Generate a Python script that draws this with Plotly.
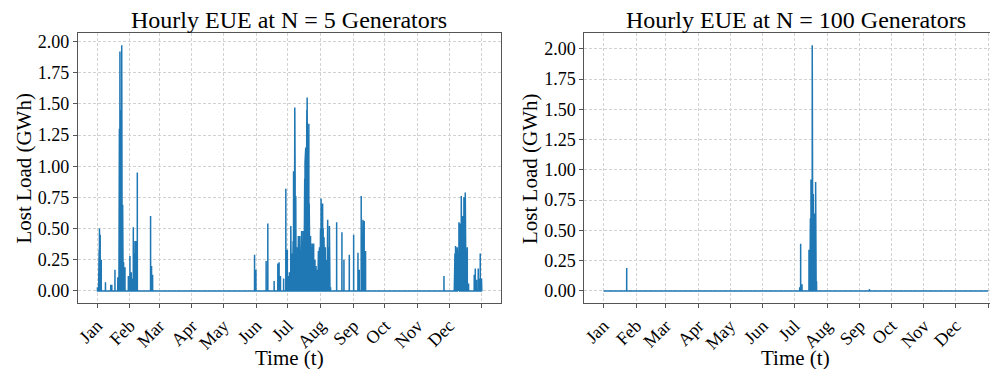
import pandas as pd
import plotly.graph_objects as go

# ---------------- data ----------------
month_labels = ["Jan", "Feb", "Mar", "Apr", "May", "Jun", "Jul", "Aug", "Sep", "Oct", "Nov", "Dec", ""]
month_ticks = ["2019-01-01", "2019-02-01", "2019-03-01", "2019-04-01", "2019-05-01", "2019-06-01",
               "2019-07-01", "2019-08-01", "2019-09-01", "2019-10-01", "2019-11-01", "2019-12-01",
               "2020-01-01"]
y_ticks = [0.0, 0.25, 0.5, 0.75, 1.0, 1.25, 1.5, 1.75, 2.0]

series_start = "2019-01-01 00:00"
series_end = "2019-12-31 23:00"

# N = 5 generators : hours with lost load (GWh)
n5_times = [
    "2019-01-01 10:00", "2019-01-02 12:00", "2019-01-03 00:00", "2019-01-03 07:00", "2019-01-04 00:00",
    "2019-01-05 00:00", "2019-01-09 00:00", "2019-01-14 00:00", "2019-01-15 00:00", "2019-01-18 00:00",
    "2019-01-20 17:00", "2019-01-21 19:00", "2019-01-22 05:00", "2019-01-22 17:00", "2019-01-23 00:00",
    "2019-01-23 12:00", "2019-01-23 20:00", "2019-01-24 10:00", "2019-01-24 20:00", "2019-01-25 07:00",
    "2019-01-25 18:00", "2019-01-26 05:00", "2019-01-27 12:00", "2019-01-30 17:00", "2019-02-01 05:00",
    "2019-02-02 12:00", "2019-02-03 12:00", "2019-02-04 10:00", "2019-02-05 06:00", "2019-02-06 00:00",
    "2019-02-07 00:00", "2019-02-08 05:00", "2019-02-20 19:00", "2019-02-21 17:00", "2019-02-22 17:00",
    "2019-05-30 10:00", "2019-05-31 17:00", "2019-06-10 10:00", "2019-06-12 00:00", "2019-06-18 00:00",
    "2019-06-21 12:00", "2019-06-22 17:00", "2019-06-24 00:00", "2019-06-27 00:00", "2019-06-29 02:00",
    "2019-06-30 12:00", "2019-07-01 12:00", "2019-07-02 12:00", "2019-07-03 19:00", "2019-07-04 06:00",
    "2019-07-04 18:00", "2019-07-05 00:00", "2019-07-05 12:00", "2019-07-06 00:00", "2019-07-06 10:00",
    "2019-07-06 20:00", "2019-07-07 06:00", "2019-07-07 14:00", "2019-07-07 22:00", "2019-07-08 06:00",
    "2019-07-08 12:00", "2019-07-08 20:00", "2019-07-09 12:00", "2019-07-09 22:00", "2019-07-10 12:00",
    "2019-07-11 00:00", "2019-07-11 12:00", "2019-07-12 07:00", "2019-07-12 18:00", "2019-07-13 12:00",
    "2019-07-14 02:00", "2019-07-14 14:00", "2019-07-15 02:00", "2019-07-15 14:00", "2019-07-16 02:00",
    "2019-07-16 08:00", "2019-07-16 17:00", "2019-07-17 00:00", "2019-07-17 07:00", "2019-07-17 18:00",
    "2019-07-18 00:00", "2019-07-18 07:00", "2019-07-18 16:00", "2019-07-19 00:00", "2019-07-19 07:00",
    "2019-07-19 14:00", "2019-07-19 22:00", "2019-07-20 06:00", "2019-07-20 14:00", "2019-07-20 22:00",
    "2019-07-21 06:00", "2019-07-21 18:00", "2019-07-22 00:00", "2019-07-22 12:00", "2019-07-23 00:00",
    "2019-07-23 12:00", "2019-07-24 00:00", "2019-07-24 12:00", "2019-07-25 00:00", "2019-07-25 12:00",
    "2019-07-26 00:00", "2019-07-26 17:00", "2019-07-27 06:00", "2019-07-27 18:00", "2019-07-28 14:00",
    "2019-07-29 06:00", "2019-07-29 18:00", "2019-07-30 00:00", "2019-07-30 12:00", "2019-07-31 00:00",
    "2019-07-31 12:00", "2019-08-01 00:00", "2019-08-01 12:00", "2019-08-02 00:00", "2019-08-02 12:00",
    "2019-08-03 00:00", "2019-08-03 12:00", "2019-08-04 07:00", "2019-08-04 18:00", "2019-08-05 12:00",
    "2019-08-06 06:00", "2019-08-06 18:00", "2019-08-07 06:00", "2019-08-07 19:00", "2019-08-08 12:00",
    "2019-08-09 10:00", "2019-08-09 22:00", "2019-08-10 12:00", "2019-08-16 07:00", "2019-08-21 07:00",
    "2019-08-23 05:00", "2019-08-28 07:00", "2019-09-01 10:00", "2019-09-05 12:00", "2019-09-06 17:00",
    "2019-09-08 14:00", "2019-09-09 12:00", "2019-09-10 05:00", "2019-09-11 10:00", "2019-09-12 17:00",
    "2019-11-26 02:00", "2019-12-05 22:00", "2019-12-06 12:00", "2019-12-07 02:00", "2019-12-07 18:00",
    "2019-12-08 17:00", "2019-12-09 12:00", "2019-12-10 07:00", "2019-12-10 20:00", "2019-12-11 05:00",
    "2019-12-11 18:00", "2019-12-12 12:00", "2019-12-13 02:00", "2019-12-13 19:00", "2019-12-14 10:00",
    "2019-12-15 00:00", "2019-12-15 14:00", "2019-12-16 07:00", "2019-12-16 22:00", "2019-12-17 12:00",
    "2019-12-18 05:00", "2019-12-19 10:00", "2019-12-24 19:00", "2019-12-25 19:00", "2019-12-27 00:00",
    "2019-12-28 14:00", "2019-12-29 12:00", "2019-12-30 12:00", "2019-12-31 17:00",
]
n5_values = [
    0.03, 0.04, 0.33, 0.50, 0.45,
    0.25, 0.07, 0.05, 0.05, 0.17,
    0.11, 1.02, 1.30, 1.92, 1.60,
    1.45, 1.20, 1.97, 0.90, 0.69,
    0.40, 0.23, 0.19, 0.12, 0.28,
    0.15, 0.10, 0.51, 0.30, 0.40,
    0.40, 0.95, 0.60, 0.20, 0.13,
    0.29, 0.17, 0.24, 0.54, 0.08,
    0.22, 0.23, 0.12, 0.10, 0.82,
    0.33, 0.12, 0.15, 0.52, 0.20,
    0.30, 0.27, 0.18, 0.40, 0.96,
    0.60, 1.00, 1.47, 0.90, 0.55,
    0.76, 0.30, 0.35, 0.25, 0.30,
    0.44, 0.28, 0.44, 0.30, 0.22,
    0.48, 0.35, 0.40, 0.48, 0.45,
    0.60, 0.81, 0.90, 1.03, 1.10,
    1.15, 1.26, 1.30, 1.45, 1.55,
    1.20, 1.40, 1.00, 0.95, 1.34,
    0.70, 0.50, 0.40, 0.44, 0.35,
    0.25, 0.38, 0.30, 0.30, 0.38,
    0.22, 0.25, 0.15, 0.20, 0.17,
    0.12, 0.20, 0.32, 0.25, 0.35,
    0.40, 0.50, 0.74, 0.60, 0.45,
    0.70, 0.50, 0.43, 0.30, 0.35,
    0.25, 0.20, 0.30, 0.57, 0.35,
    0.52, 0.20, 0.03, 0.55, 0.47,
    0.25, 0.29, 0.45, 0.305, 0.17,
    0.76, 0.30, 0.57, 0.56, 0.32,
    0.12, 0.19, 0.30, 0.36, 0.25,
    0.35, 0.30, 0.55, 0.40, 0.54,
    0.45, 0.76, 0.50, 0.60, 0.45,
    0.75, 0.50, 0.79, 0.42, 0.30,
    0.35, 0.06, 0.13, 0.18, 0.09,
    0.18, 0.10, 0.30, 0.10,
]

# N = 100 generators : hours with lost load (GWh)
n100_times = [
    "2019-01-23 00:00", "2019-07-06 02:00", "2019-07-07 00:00", "2019-07-08 07:00", "2019-07-14 22:00",
    "2019-07-15 08:00", "2019-07-15 19:00", "2019-07-16 06:00", "2019-07-16 19:00", "2019-07-17 08:00",
    "2019-07-18 00:00", "2019-07-18 12:00", "2019-07-19 00:00", "2019-07-19 10:00", "2019-07-19 22:00",
    "2019-07-20 12:00", "2019-07-21 05:00", "2019-07-21 16:00", "2019-07-22 02:00", "2019-09-10 05:00",
]
n100_values = [
    0.19, 0.03, 0.39, 0.055, 0.34,
    0.25, 0.40, 0.60, 0.92, 0.70,
    2.03, 0.75, 0.80, 0.55, 0.64,
    0.45, 0.90, 0.30, 0.08, 0.015,
]

# ---------------- build hourly traces ----------------
t_start = pd.Timestamp(series_start)
t_end = pd.Timestamp(series_end)
hour = pd.Timedelta(hours=1)


def build_series(times, values):
    events = sorted(zip(pd.to_datetime(times), values))
    xs = [t_start]
    ys = [0.0]
    for t, v in events:
        xs += [t - hour, t, t + hour]
        ys += [0.0, v, 0.0]
    xs.append(t_end)
    ys.append(0.0)
    return xs, ys


x5, y5 = build_series(n5_times, n5_values)
x100, y100 = build_series(n100_times, n100_values)

# matplotlib-like 5% margins
span = t_end - t_start
margin = span * 0.05
x_lo = t_start - margin
x_hi = t_end + margin
# right panel is clipped by the figure edge
x_hi_right = x_lo + (x_hi - x_lo) * (415.0 / 424.5)


def y_range(vals):
    m = max(vals)
    return [-0.05 * m, m * 1.05]


W, H = 998, 369
OFF = 8  # page body margin offset


def px(x):
    return (x - OFF) / W


def py(y):
    return (H - (y - OFF)) / H


FONT = "Liberation Serif, Times New Roman, serif"
BLUE = "#1f77b4"
FRAME = "#555555"
GRID = "#d2d2d2"

fig = go.Figure()
fig.add_trace(go.Scatter(x=x5, y=y5, mode="lines", line=dict(color=BLUE, width=1.5),
                         xaxis="x", yaxis="y", showlegend=False))
fig.add_trace(go.Scatter(x=x100, y=y100, mode="lines", line=dict(color=BLUE, width=1.5),
                         xaxis="x2", yaxis="y2", showlegend=False))

left_dom = [px(75), px(499.5)]
right_dom = [px(583), px(998)]
y_dom = [py(303), py(32)]

common_x = dict(type="date", tickmode="array", tickvals=month_ticks, ticktext=month_labels,
                tickangle=-45, ticks="outside", ticklen=4, tickwidth=1, tickcolor=FRAME,
                showline=True, mirror=True, linecolor=FRAME, linewidth=1,
                showgrid=True, gridcolor=GRID, gridwidth=0.8, griddash="3px,2px",
                zeroline=False, tickfont=dict(family=FONT, size=18, color="black"))
common_y = dict(tickmode="array", tickvals=y_ticks, tickformat=".2f",
                ticks="outside", ticklen=4, tickwidth=1, tickcolor=FRAME,
                showline=True, mirror=True, linecolor=FRAME, linewidth=1,
                showgrid=True, gridcolor=GRID, gridwidth=0.8, griddash="3px,2px",
                zeroline=False, tickfont=dict(family=FONT, size=18, color="black"))

fig.update_layout(
    width=W, height=H, margin=dict(l=0, r=0, t=0, b=0),
    paper_bgcolor="white", plot_bgcolor="white",
    font=dict(family=FONT, color="black"),
    xaxis=dict(domain=left_dom, range=[x_lo, x_hi], anchor="y", **common_x),
    yaxis=dict(domain=y_dom, range=y_range(n5_values), anchor="x", **common_y),
    xaxis2=dict(domain=right_dom, range=[x_lo, x_hi_right], anchor="y2", **common_x),
    yaxis2=dict(domain=y_dom, range=y_range(n100_values), anchor="x2", **common_y),
)

ann = []
for cx, title, ycx in [(287, "Hourly EUE at N = 5 Generators", 21),
                       (795, "Hourly EUE at N = 100 Generators", 528)]:
    ann.append(dict(x=px(cx), y=py(19), xref="paper", yref="paper", text=title,
                    showarrow=False, xanchor="center", yanchor="middle",
                    font=dict(family=FONT, size=24, color="black")))
    ann.append(dict(x=px(cx), y=py(358), xref="paper", yref="paper", text="Time (t)",
                    showarrow=False, xanchor="center", yanchor="middle",
                    font=dict(family=FONT, size=21, color="black")))
    ann.append(dict(x=px(ycx), y=py(168), xref="paper", yref="paper", text="Lost Load (GWh)",
                    showarrow=False, xanchor="center", yanchor="middle", textangle=-90,
                    font=dict(family=FONT, size=21, color="black")))
fig.update_layout(annotations=ann)

fig.write_html("out.html")
